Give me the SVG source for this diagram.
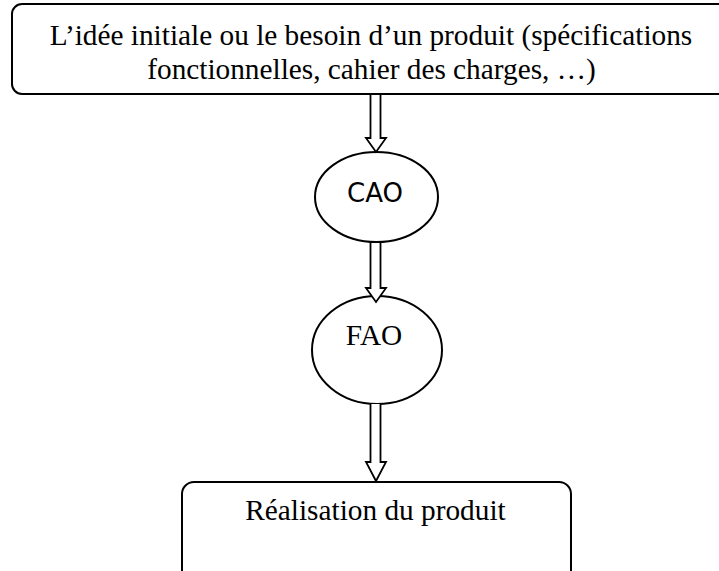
<svg xmlns="http://www.w3.org/2000/svg" width="719" height="571" viewBox="0 0 719 571">
<style>
.box{fill:#fff;stroke:#000;stroke-width:2}
.serif{font-family:"Liberation Serif","Times New Roman",serif;font-size:29.3px;fill:#000;text-anchor:middle}
.sans{font-family:"DejaVu Sans","Liberation Sans",sans-serif;font-size:26px;fill:#000;text-anchor:middle}
.arrow{fill:#fff;stroke:#000;stroke-width:1.8;stroke-linejoin:miter}
</style>
<rect width="719" height="571" fill="#fff"/>
<g id="node-idee">
<rect class="box" x="12" y="4" width="730" height="90" rx="10"/>
<text class="serif" x="371" y="45">L’idée initiale ou le besoin d’un produit (spécifications</text>
<text class="serif" x="371.5" y="79">fonctionnelles, cahier des charges, …)</text>
</g>
<g id="node-cao">
<ellipse class="box" cx="376.5" cy="197" rx="61.5" ry="45"/>
<text class="sans" x="375" y="202">CAO</text>
</g>
<g id="node-fao">
<ellipse class="box" cx="377" cy="350" rx="65" ry="54"/>
<text class="serif" x="374" y="345">FAO</text>
</g>
<g id="node-realisation">
<rect class="box" x="182" y="482" width="389" height="100" rx="12"/>
<text class="serif" x="375.5" y="520">Réalisation du produit</text>
</g>
<g id="connectors">
<path class="arrow" d="M370.5,95 V138 H366 L376,152 L386,138 H380.5 V95"/>
<path class="arrow" d="M370.5,243 V288 H366 L376,302 L386,288 H380.5 V243"/>
<path class="arrow" d="M370.5,404 V462 H366 L376,481 L386,462 H380.5 V404"/>
</g>
</svg>
